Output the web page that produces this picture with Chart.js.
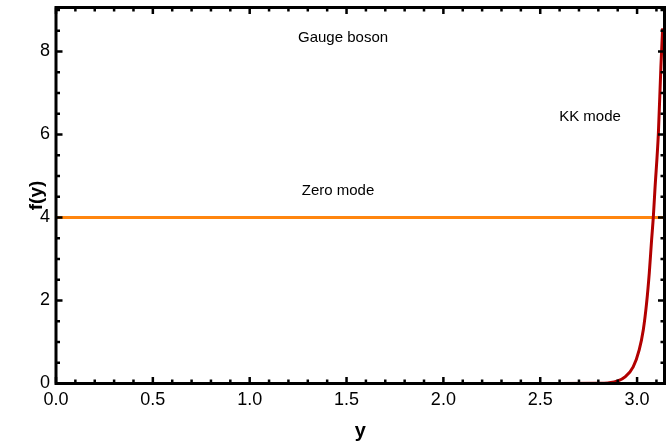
<!DOCTYPE html>
<html>
<head>
<meta charset="utf-8">
<script src="https://cdn.jsdelivr.net/npm/chart.js@4/dist/chart.umd.min.js"></script>
<style>
  html, body { margin: 0; padding: 0; background: #fff; }
  #c { display: block; }
</style>
</head>
<body>
<canvas id="c" width="666" height="447"></canvas>
<script>
// ---- data ----
const xTickLabels = [0.0, 0.5, 1.0, 1.5, 2.0, 2.5, 3.0];
const yTickLabels = [0, 2, 4, 6, 8];

const zeroModeX = [0, 3.14159];
const zeroModeY = [4, 4];

const kkModeX = [0, 1.0, 2.0, 2.6, 2.8, 2.85, 2.9, 2.938, 2.98, 3.011, 3.032, 3.049, 3.063, 3.075, 3.084, 3.092, 3.11, 3.123, 3.132];
const kkModeY = [0, 0, 0, 0, 0.004, 0.015, 0.06, 0.16, 0.40, 0.81, 1.29, 1.93, 2.66, 3.46, 4.02, 4.66, 6.03, 7.63, 8.56];

const annotations = [
  { text: 'Gauge boson', x: 1.482, y: 8.34 },
  { text: 'KK mode', x: 2.757, y: 6.42 },
  { text: 'Zero mode', x: 1.456, y: 4.64 }
];

const X_MIN = 0, X_MAX = 3.14159, Y_MIN = 0, Y_MAX = 9.06;
const FONT = '"Liberation Sans", Arial, Helvetica, sans-serif';

function pts(xs, ys) { return xs.map((x, i) => ({ x: x, y: ys[i] })); }

Chart.defaults.color = '#000';
Chart.defaults.font.family = FONT;

const framePlugin = {
  id: 'frame',
  afterDatasetsDraw(chart) {
    const ctx = chart.ctx;
    const a = chart.chartArea;
    const xs = chart.scales.x, ys = chart.scales.y;
    ctx.save();
    // annotations
    ctx.fillStyle = '#000';
    ctx.font = '15px ' + FONT;
    ctx.textAlign = 'center';
    ctx.textBaseline = 'middle';
    annotations.forEach(an => {
      ctx.fillText(an.text, xs.getPixelForValue(an.x), ys.getPixelForValue(an.y));
    });
    // ticks
    ctx.strokeStyle = '#000';
    ctx.lineWidth = 2.5;
    ctx.lineCap = 'butt';
    const major = 6.5, minor = 4;
    for (let i = 0; i <= 31; i++) {
      const v = i / 10;
      if (v > X_MAX) break;
      const isMajor = (i % 5 === 0);
      const len = isMajor ? major : minor;
      const px = xs.getPixelForValue(v);
      ctx.beginPath();
      ctx.moveTo(px, a.bottom); ctx.lineTo(px, a.bottom - len);
      ctx.moveTo(px, a.top); ctx.lineTo(px, a.top + len);
      ctx.stroke();
    }
    for (let i = 0; i <= 18; i++) {
      const v = i / 2;
      if (v > Y_MAX) break;
      const isMajor = (i % 4 === 0);
      const len = isMajor ? major : minor;
      const py = ys.getPixelForValue(v);
      ctx.beginPath();
      ctx.moveTo(a.left, py); ctx.lineTo(a.left + len, py);
      ctx.moveTo(a.right, py); ctx.lineTo(a.right - len, py);
      ctx.stroke();
    }
    // frame
    ctx.lineWidth = 3;
    ctx.strokeRect(a.left, a.top, a.right - a.left, a.bottom - a.top);
    ctx.restore();
  }
};

new Chart(document.getElementById('c'), {
  type: 'scatter',
  data: {
    datasets: [
      {
        label: 'KK mode',
        data: pts(kkModeX, kkModeY),
        showLine: true,
        borderColor: 'rgb(178,0,0)',
        borderWidth: 3,
        pointRadius: 0,
        cubicInterpolationMode: 'monotone',
        fill: false
      },
      {
        label: 'Zero mode',
        data: pts(zeroModeX, zeroModeY),
        showLine: true,
        borderColor: 'rgb(255,133,15)',
        borderWidth: 3,
        pointRadius: 0,
        fill: false
      }
    ]
  },
  options: {
    responsive: false,
    animation: false,
    events: [],
    layout: { padding: { top: 7.5, right: 1.5, left: 0, bottom: 0 } },
    plugins: { legend: { display: false }, tooltip: { enabled: false } },
    scales: {
      x: {
        type: 'linear',
        min: X_MIN, max: X_MAX,
        grid: { display: false, drawTicks: false },
        border: { display: false },
        afterBuildTicks: s => { s.ticks = xTickLabels.map(v => ({ value: v })); },
        afterFit: s => { s.height = 63.5; s.paddingLeft = 0; s.paddingRight = 0; },
        ticks: {
          autoSkip: false, maxRotation: 0, padding: 6,
          font: { size: 18, family: FONT },
          callback: v => Number(v).toFixed(1)
        },
        title: {
          display: true, text: 'y',
          font: { size: 20, weight: 'bold', family: FONT },
          padding: { top: 0, bottom: 4 }
        }
      },
      y: {
        type: 'linear',
        min: Y_MIN, max: Y_MAX,
        grid: { display: false, drawTicks: false },
        border: { display: false },
        afterBuildTicks: s => { s.ticks = yTickLabels.map(v => ({ value: v })); },
        afterFit: s => { s.width = 56; s.paddingTop = 0; s.paddingBottom = 0; },
        ticks: {
          autoSkip: false, padding: 6,
          font: { size: 18, family: FONT },
          callback: v => String(v)
        },
        title: {
          display: true, text: 'f(y)',
          font: { size: 19, weight: 'bold', family: FONT },
          padding: { top: 25, bottom: 0 }
        }
      }
    }
  },
  plugins: [framePlugin]
});
</script>
</body>
</html>
